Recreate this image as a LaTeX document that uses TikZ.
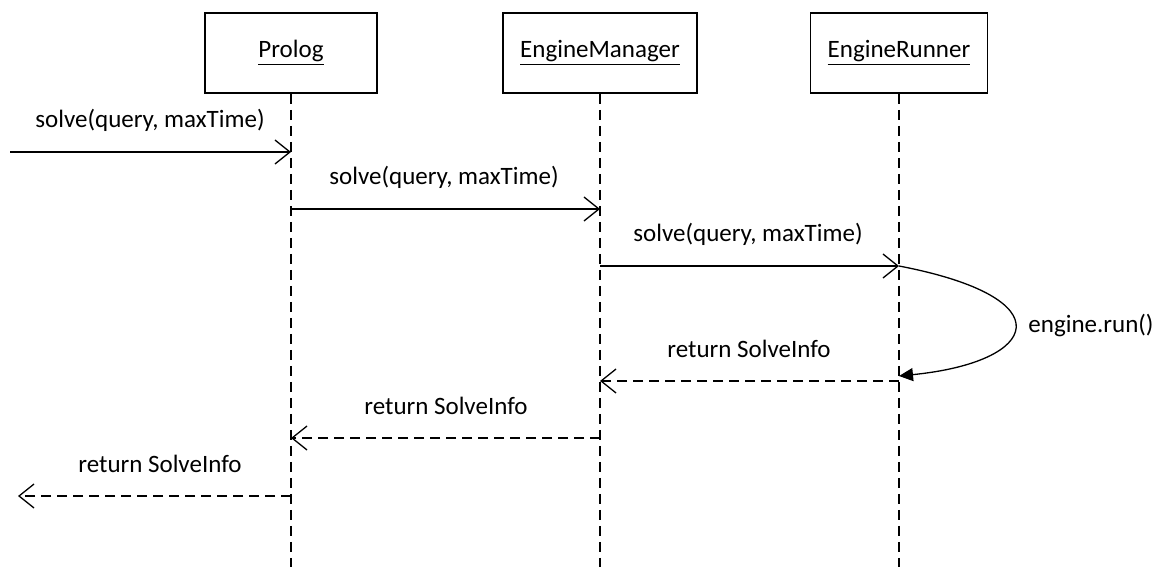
\documentclass[tikz,border=0pt]{standalone}
\usepackage{fontspec}
\setmainfont{Carlito}
\usetikzlibrary{arrows.meta}

\begin{document}
\begin{tikzpicture}[x=0.5pt,y=-0.5pt,
		lifebox/.style={draw,line width=0.8pt,minimum height=40pt,inner sep=0pt},
		lifeline/.style={line width=0.65pt,dash pattern=on 5pt off 3pt},
		callmsg/.style={line width=0.65pt,-{Straight Barb[length=7.5pt,width=12pt,line width=0.65pt]}},
		returnmsg/.style={callmsg,dash pattern=on 5pt off 3pt},
		selfmsg/.style={line width=0.65pt,-{Triangle[length=7pt,width=6.5pt]}},
		msglabel/.style={inner sep=0pt,font=\fontsize{12.5}{14}\selectfont}]
		\useasboundingbox (0,0) rectangle (1161,567);
		\coordinate (prolog_top) at (291,53);
		\coordinate (manager_top) at (600,53);
		\coordinate (runner_top) at (899,53);
		\coordinate (caller_in) at (10,152);
		\coordinate (caller_out) at (18,496);
		\node[lifebox,minimum width=86pt] (prolog) at (prolog_top) {\fontsize{12.5}{14}\selectfont\underline{Prolog}};
		\node[lifebox,minimum width=97pt] (manager) at (manager_top) {\fontsize{12.5}{14}\selectfont\underline{EngineManager}};
		\node[lifebox,minimum width=88.5pt] (runner) at (runner_top) {\fontsize{12.5}{14}\selectfont\underline{EngineRunner}};

		% lifelines
		\coordinate (prolog_end) at (291,567);
		\coordinate (manager_end) at (600,567);
		\coordinate (runner_end) at (899,567);
		\draw[lifeline] (prolog.south) -- (prolog_end);
		\draw[lifeline] (manager.south) -- (manager_end);
		\draw[lifeline] (runner.south) -- (runner_end);

		% points on the lifelines
		\coordinate (p_call) at (291,152);
		\coordinate (p_out) at (291,209);
		\coordinate (m_call) at (600,209);
		\coordinate (m_out) at (600,266);
		\coordinate (r_call) at (899,266);
		\coordinate (r_back) at (899,376);
		\coordinate (r_ret) at (899,381);
		\coordinate (m_ret) at (600,381);
		\coordinate (m_back) at (600,438);
		\coordinate (p_ret) at (291,438);
		\coordinate (p_back) at (291,496);

		\draw[callmsg] (caller_in) -- (p_call);
		\draw[callmsg] (p_out) -- (m_call);
		\draw[callmsg] (m_out) -- (r_call);
		\draw[selfmsg] (r_call) .. controls (1066,298) and (1040,362) .. (r_back);
		\draw[returnmsg] (r_ret) -- (m_ret);
		\draw[returnmsg] (m_back) -- (p_ret);
		\draw[returnmsg] (p_back) -- (caller_out);

		\node[msglabel] (solve_a) at (150,120) {solve(query, maxTime)};
		\node[msglabel] (solve_b) at (444,177) {solve(query, maxTime)};
		\node[msglabel] (solve_c) at (748,234) {solve(query, maxTime)};
		\node[msglabel] (run_lbl) at (1091,326) {engine.run()};
		\node[msglabel] (ret_a) at (749,349) {return SolveInfo};
		\node[msglabel] (ret_b) at (446,406) {return SolveInfo};
		\node[msglabel] (ret_c) at (160,464) {return SolveInfo};
	\end{tikzpicture}
\end{document}
